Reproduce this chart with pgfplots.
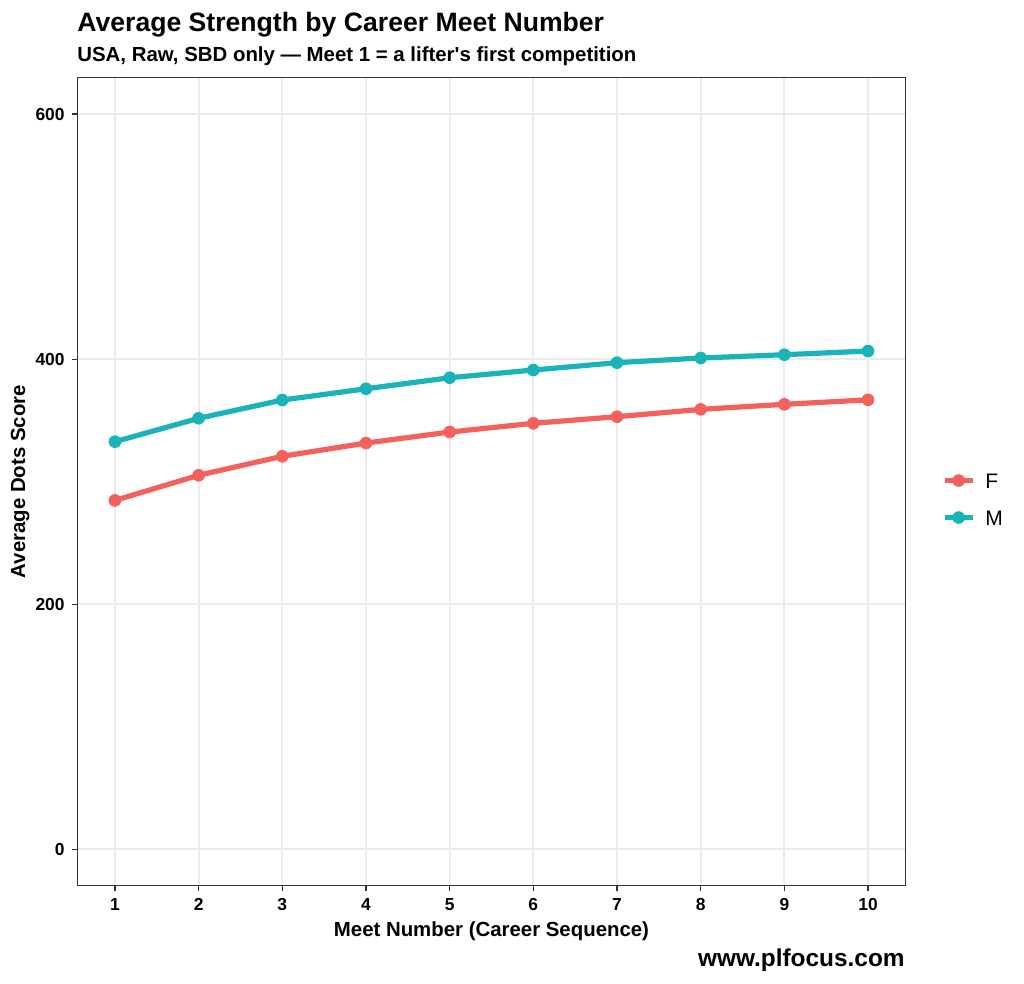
\documentclass[border=0pt]{standalone}
\usepackage{pgfplots}
\pgfplotsset{compat=1.18}
\usepackage{fontspec}
\setmainfont{Liberation Sans}
\definecolor{cF}{HTML}{F4615D}
\definecolor{cM}{HTML}{1AB4B8}
\definecolor{gridgray}{HTML}{EBEBEB}
\definecolor{bordergray}{HTML}{333333}
\pgfplotstableread{
x y
1 284.7
2 305.2
3 320.7
4 331.5
5 340.5
6 347.6
7 353.0
8 359.0
9 363.1
10 366.8
}\dataF
\pgfplotstableread{
x y
1 332.6
2 351.7
3 366.6
4 375.8
5 384.8
6 391.1
7 397.1
8 400.9
9 403.6
10 406.6
}\dataM
\begin{document}
\begin{tikzpicture}
\useasboundingbox (0,0) rectangle (512pt,492pt);
\begin{axis}[
  at={(38.65pt,49pt)}, anchor=south west,
  scale only axis, width=414.2pt, height=404.35pt,
  xmin=0.55, xmax=10.45, ymin=-30, ymax=630,
  xtick={1,...,10}, ytick={0,200,400,600},
  tick pos=left, tick align=outside, major tick length=2.75pt,
  every tick/.style={bordergray, line width=0.6pt},
  axis line style={bordergray, line width=0.5pt},
  grid=major, major grid style={gridgray, line width=1pt},
  /pgf/number format/assume math mode=true,
  ticklabel style={font=\fontsize{8.7}{10}\selectfont\bfseries, text=black},
  xticklabel style={anchor=north, inner sep=0pt, yshift=-3.25pt},
  yticklabel style={anchor=east, inner sep=0pt, xshift=-3.4pt},
  xlabel={Meet Number (Career Sequence)},
  ylabel={Average Dots Score},
  label style={font=\fontsize{10.2}{12}\selectfont\bfseries},
  xlabel style={at={(axis description cs:0.5,-0.0625)}, anchor=base, inner sep=0pt},
  ylabel style={at={(axis description cs:-0.0631,0.5)}, anchor=base, inner sep=0pt},
  legend style={at={(axis description cs:1,0.4785)}, anchor=west, xshift=18pt,
    draw=none, fill=none, inner sep=0pt, row sep=11pt,
    font=\fontsize{10.5}{12}\selectfont,
    nodes={inner sep=0pt, anchor=west, text height=7.5pt, text depth=0pt},
    /tikz/every odd column/.append style={column sep=5pt}},
  legend cell align=left,
  legend image code/.code={\draw[mark repeat=2,mark phase=2,#1] plot coordinates {(0pt,0pt) (7pt,0pt) (14pt,0pt)};},
]
\addplot[cF, line width=2.6pt, line join=round, mark=*, mark size=2.9pt, mark options={line width=0.5pt}] table[x=x,y=y] {\dataF};
\addlegendentry{F}
\addplot[cM, line width=2.6pt, line join=round, mark=*, mark size=2.9pt, mark options={line width=0.5pt}] table[x=x,y=y] {\dataM};
\addlegendentry{M}
\end{axis}
\node[anchor=base west, inner sep=0pt, font=\fontsize{13.3}{16}\selectfont\bfseries] at (38.5pt,476.2pt) {Average Strength by Career Meet Number};
\node[anchor=base west, inner sep=0pt, font=\fontsize{10.2}{12}\selectfont\bfseries] at (38.5pt,461.2pt) {USA, Raw, SBD only — Meet 1 = a lifter\textquotesingle s first competition};
\node[anchor=base east, inner sep=0pt, font=\fontsize{12.2}{14}\selectfont\bfseries] at (452.5pt,8.5pt) {www.plfocus.com};
\end{tikzpicture}
\end{document}
